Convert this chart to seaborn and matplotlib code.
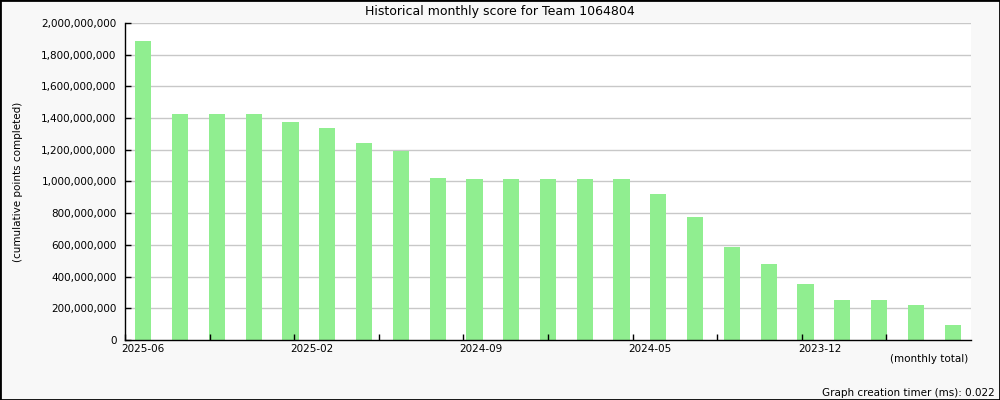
import matplotlib
matplotlib.use("Agg")
import matplotlib.pyplot as plt
import matplotlib.transforms as mtransforms
from matplotlib.patches import Rectangle
from matplotlib.ticker import FuncFormatter
import seaborn as sns
import pandas as pd

months = ["2025-06", "2025-05", "2025-04", "2025-03", "2025-02", "2025-01",
          "2024-12", "2024-11", "2024-10", "2024-09", "2024-08", "2024-07",
          "2024-06", "2024-05", "2024-04", "2024-03", "2024-02", "2024-01",
          "2023-12", "2023-11", "2023-10", "2023-09", "2023-08"]
scores = [1886e6, 1426e6, 1426e6, 1426e6, 1375e6, 1338e6,
          1243e6, 1192e6, 1022e6, 1016e6, 1016e6, 1016e6,
          1016e6, 1016e6, 921e6, 776e6, 587e6, 480e6,
          353e6, 252e6, 252e6, 221e6, 95e6]
tick_labels = ["2025-06", "2025-02", "2024-09", "2024-05", "2023-12"]

df = pd.DataFrame({"month": months, "score": scores})

sns.set_style("white")
plt.rcParams["font.family"] = ["DejaVu Sans"]
plt.rcParams["text.color"] = "black"

fig = plt.figure(figsize=(10, 4), dpi=100)
fig.patch.set_facecolor("#f8f8f8")
ax = fig.add_axes([0.125, 1 - 340 / 400, 0.846, 317 / 400])
ax.set_facecolor("white")

sns.barplot(data=df, x="month", y="score", color="#90ee90", saturation=1,
            width=0.44, linewidth=0, ax=ax, zorder=2)

n = len(months)
ax.set_xlim(-0.5, n - 0.5)
ax.set_ylim(0, 2e9)
yt = [i * 2e8 for i in range(11)]
ax.set_yticks(yt)
ax.yaxis.set_major_formatter(FuncFormatter(lambda v, p: f"{int(v):,}"))
# grid behind the bars, ticks drawn over them
ax.hlines(yt[1:], -0.5, n - 0.5, color="#c8c8c8", linewidth=1, zorder=1)
ax.set_axisbelow(False)

# ten equal divisions along the x axis, every second one labelled
xt = [-0.5 + n * k / 10 for k in range(10)]
ax.set_xticks(xt)
ax.set_xticklabels([])
shift = mtransforms.ScaledTranslation(-4 / 100, -4 / 100, fig.dpi_scale_trans)
trans = ax.get_xaxis_transform() + shift
for k, lab in enumerate(tick_labels):
    ax.text(xt[2 * k], 0, lab, transform=trans, ha="left", va="top",
            fontsize=7.5, color="black", clip_on=False)

ax.tick_params(axis="both", direction="in", length=4.5, width=1, color="black",
               labelsize=7.5, labelcolor="black", bottom=True, left=True)
ax.tick_params(axis="y", pad=6)
ax.set_xlabel("")
ax.set_ylabel("")
for s in ["top", "right"]:
    ax.spines[s].set_visible(False)
for s in ["left", "bottom"]:
    ax.spines[s].set_color("black")
    ax.spines[s].set_linewidth(1)
    ax.spines[s].set_zorder(5)

fig.text(0.5, 1 - 11 / 400, "Historical monthly score for Team 1064804",
         ha="center", va="center", fontsize=9)
fig.text(18 / 1000, 1 - 182 / 400, "(cumulative points completed)",
         rotation=90, ha="center", va="center", fontsize=7.5)
fig.text(968 / 1000, 1 - 359 / 400, "(monthly total)",
         ha="right", va="center", fontsize=7.5)
fig.text(995 / 1000, 1 - 393 / 400, "Graph creation timer (ms): 0.022",
         ha="right", va="center", fontsize=7.5)

fig.add_artist(Rectangle((0, 0), 1, 1, transform=fig.transFigure, fill=False,
                         edgecolor="black", linewidth=2))

fig.savefig("out.png", dpi=100, facecolor=fig.get_facecolor())
